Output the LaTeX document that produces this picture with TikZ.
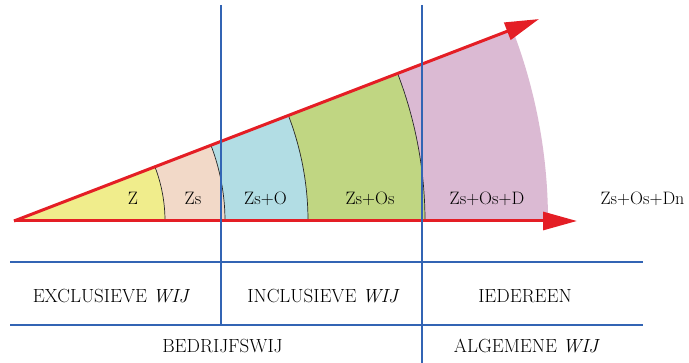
\documentclass[tikz,border=0pt]{standalone}
\usetikzlibrary{arrows.meta}
\pgfdeclarelayer{filllayer}
\pgfdeclarelayer{linelayer}
\pgfsetlayers{filllayer,linelayer,main}
\definecolor{zyellow}{RGB}{240,237,140}
\definecolor{zpeach}{RGB}{242,217,200}
\definecolor{zcyan}{RGB}{178,221,228}
\definecolor{zgreen}{RGB}{192,214,130}
\definecolor{zpink}{RGB}{219,186,211}
\definecolor{zred}{RGB}{228,30,37}
\definecolor{zblue}{RGB}{50,100,180}
\tikzstyle{redarrow}=[draw=zred, line width=3pt, -{Triangle[length=34pt,width=18pt]}]
\tikzstyle{blueline}=[draw=zblue, line width=1.3pt]
\tikzstyle{bound}=[draw=black!85, line width=0.7pt]
\tikzstyle{wedgetext}=[font=\fontsize{18}{22}\selectfont, anchor=base, inner sep=0pt]
\tikzstyle{rowtext}=[font=\fontsize{19}{23}\selectfont, anchor=base, inner sep=0pt]

\begin{document}
\begin{tikzpicture}[x=1pt,y=1pt]
	\useasboundingbox (-14,-142) rectangle (675,221);
	\coordinate (apex) at (0,0);
	\coordinate (toptip) at (21.04:562.5);
	\coordinate (bottip) at (563,0);
	\coordinate (v1top) at (207,216);
	\coordinate (v1bot) at (207,-104);
	\coordinate (v2top) at (408,216);
	\coordinate (v2bot) at (408,-142);
	\coordinate (h1l) at (-4,-41);
	\coordinate (h1r) at (629,-41);
	\coordinate (h2l) at (-4,-104);
	\coordinate (h2r) at (629,-104);
	\begin{pgfonlayer}{filllayer}
		\foreach \rin/\rout/\col in {0.1/151/zyellow,151/211/zpeach,211/294/zcyan,294/411/zgreen,411/534/zpink}
			\fill[\col] (0:\rin) -- (0:\rout) arc[start angle=0,end angle=21.04,radius=\rout] -- (21.04:\rin) arc[start angle=21.04,end angle=0,radius=\rin] -- cycle;
	\end{pgfonlayer}
	\begin{pgfonlayer}{linelayer}
		\foreach \r in {151,211,294,411}
			\draw[style=bound] (0:\r) arc[start angle=0,end angle=21.04,radius=\r];
	\end{pgfonlayer}
	\node[style=wedgetext] (z) at (119,16) {Z};
	\node[style=wedgetext] (zs) at (179,16) {Zs};
	\node[style=wedgetext] (zso) at (251.5,16) {Zs+O};
	\node[style=wedgetext] (zsos) at (356,16) {Zs+Os};
	\node[style=wedgetext] (zsosd) at (473,16) {Zs+Os+D};
	\node[style=wedgetext] (zsosdn) at (628.5,16) {Zs+Os+Dn};
	\node[style=rowtext] (excl) at (97.5,-82) {EXCLUSIEVE \textit{WIJ}};
	\node[style=rowtext] (incl) at (309.5,-82) {INCLUSIEVE \textit{WIJ}};
	\node[style=rowtext] (ieder) at (511,-82) {IEDEREEN};
	\node[style=rowtext] (bedr) at (208.5,-132) {BEDRIJFSWIJ};
	\node[style=rowtext] (alg) at (513,-132) {ALGEMENE \textit{WIJ}};
	\draw[style=redarrow] (apex) to (toptip);
	\draw[style=redarrow] (apex) to (bottip);
	\draw[style=blueline] (v1top) to (v1bot);
	\draw[style=blueline] (v2top) to (v2bot);
	\draw[style=blueline] (h1l) to (h1r);
	\draw[style=blueline] (h2l) to (h2r);
\end{tikzpicture}
\end{document}
